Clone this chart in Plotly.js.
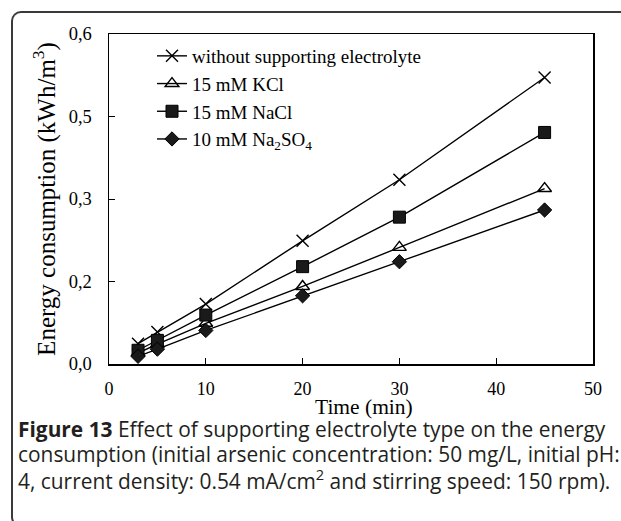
<!DOCTYPE html>
<html>
<head>
<meta charset="utf-8">
<script src="https://cdn.plot.ly/plotly-3.0.1.min.js"></script>
<style>
  html, body { margin: 0; padding: 0; background: #fff; }
  #wrap { position: relative; width: 621px; height: 521px; overflow: hidden; }
  #chart { position: absolute; left: 0; top: 0; width: 621px; height: 521px; }
  #frame { position: absolute; left: 11px; top: 11px; width: 640px; height: 512px;
           border-top: 2px solid #3a3a3a; border-left: 2px solid #3a3a3a;
           border-bottom: 2px solid #3a3a3a;
           border-top-left-radius: 10px; border-bottom-left-radius: 10px;
           pointer-events: none; }
</style>
</head>
<body>
<div id="wrap">
  <div id="chart"></div>
  <div id="frame"></div>
</div>
<script>
// Data
const timeMin = [3, 5, 10, 20, 30, 45];
const withoutElectrolyte = [0.037, 0.058, 0.109, 0.224, 0.335, 0.521];
const kcl15 = [0.020, 0.036, 0.074, 0.141, 0.212, 0.319];
const nacl15 = [0.025, 0.043, 0.089, 0.177, 0.267, 0.421];
const na2so4_10 = [0.014, 0.027, 0.061, 0.124, 0.186, 0.280];

const seriesNames = ["without supporting electrolyte", "15 mM KCl", "15 mM NaCl", "10 mM Na<sub>2</sub>SO<sub>4</sub>"];
const yTickVals = [0, 0.15, 0.3, 0.45, 0.6];
const yTickText = ["0,0", "0,2", "0,3", "0,5", "0,6"];
const xTickVals = [0, 10, 20, 30, 40, 50];
const xTitle = "Time (min)";
const yTitle = "Energy consumption (kWh/m<sup>3</sup>)";
const captionLines = [
  "<b>Figure 13</b> Effect of supporting electrolyte type on the energy",
  "consumption (initial arsenic concentration: 50 mg/L, initial pH:",
  "4, current density: 0.54 mA/cm<sup>2</sup> and stirring speed: 150 rpm)."
];

const serif = "Liberation Serif, Times New Roman, serif";
const lineStyle = {color: "#000", width: 1.4};

const traces = [
  {x: timeMin, y: withoutElectrolyte, name: seriesNames[0], mode: "lines+markers", line: lineStyle,
   marker: {symbol: "x-thin-open", size: 12, color: "#000", line: {color: "#000", width: 1.4}}},
  {x: timeMin, y: kcl15, name: seriesNames[1], mode: "lines+markers", line: lineStyle,
   marker: {symbol: "triangle-up-open", size: 12, color: "#000", line: {color: "#000", width: 1.4}}},
  {x: timeMin, y: nacl15, name: seriesNames[2], mode: "lines+markers", line: lineStyle,
   marker: {symbol: "square", size: 12, color: "#1a1a1a", line: {color: "#000", width: 1}}},
  {x: timeMin, y: na2so4_10, name: seriesNames[3], mode: "lines+markers", line: lineStyle,
   marker: {symbol: "diamond", size: 11, color: "#1a1a1a", line: {color: "#000", width: 1}}}
];

// pixel -> paper helpers (plot area: x 109..593, y 34..364)
const px = p => (p - 109) / 484;
const py = p => (364 - p) / 330;
const captionFont = {family: "Open Sans, Noto Sans, sans-serif", size: 20.9, color: "#231f20"};
const captionY = [429, 454, 479];

const layout = {
  width: 621, height: 521,
  margin: {l: 109, r: 28, t: 34, b: 157},
  paper_bgcolor: "rgba(0,0,0,0)",
  plot_bgcolor: "#fff",
  showlegend: true,
  legend: {
    x: px(152), y: py(37), xanchor: "left", yanchor: "top",
    bgcolor: "rgba(0,0,0,0)", borderwidth: 0,
    font: {family: serif, size: 19, color: "#000"},
    tracegroupgap: 0
  },
  xaxis: {
    range: [0, 50], tickvals: xTickVals, ticktext: xTickVals.map(String),
    ticks: "inside", ticklen: 6, tickcolor: "#000", tickwidth: 1,
    showline: true, linecolor: "#000", linewidth: 1.5, mirror: true,
    showgrid: false, zeroline: false,
    tickfont: {family: serif, size: 18, color: "#000"},
    ticklabelstandoff: 8
  },
  yaxis: {
    range: [0, 0.6], tickvals: yTickVals, ticktext: yTickText,
    ticks: "inside", ticklen: 6, tickcolor: "#000", tickwidth: 1,
    showline: true, linecolor: "#000", linewidth: 1.5, mirror: true,
    showgrid: false, zeroline: false,
    tickfont: {family: serif, size: 18.5, color: "#000"},
    ticklabelstandoff: 12,
    title: {text: yTitle, font: {family: serif, size: 25, color: "#000"}, standoff: 6}
  },
  annotations: [
    {text: xTitle, xref: "paper", yref: "paper", x: px(364), y: py(407),
     xanchor: "center", yanchor: "middle", showarrow: false,
     font: {family: serif, size: 21.5, color: "#000"}}
  ].concat(captionLines.map((t, i) => ({
     text: t, xref: "paper", yref: "paper", x: px(16), y: py(captionY[i]),
     xanchor: "left", yanchor: "middle", showarrow: false, font: captionFont
  })))
};

Plotly.newPlot("chart", traces, layout, {displayModeBar: false, staticPlot: true});
</script>
</body>
</html>
